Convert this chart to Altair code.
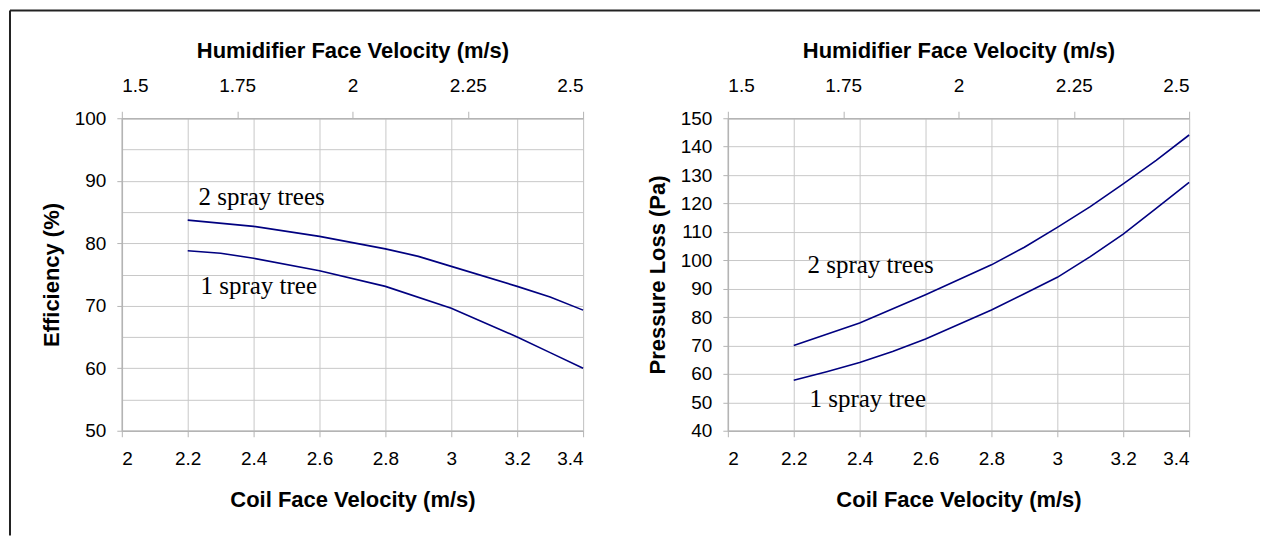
import altair as alt
import pandas as pd

# ---- data ----
coil_ticks = [2.0, 2.2, 2.4, 2.6, 2.8, 3.0, 3.2, 3.4]
hum_ticks = [1.5, 1.75, 2.0, 2.25, 2.5]

# Efficiency panel
eff_x_two = [2.2, 2.4, 2.6, 2.8, 2.9, 3.0, 3.2, 3.3, 3.4]
eff_two = [83.7, 82.7, 81.1, 79.1, 77.9, 76.3, 73.1, 71.4, 69.3]
eff_x_one = [2.2, 2.3, 2.4, 2.6, 2.8, 3.0, 3.2, 3.3, 3.4]
eff_one = [78.8, 78.4, 77.6, 75.6, 73.1, 69.6, 65.0, 62.5, 60.0]

# Pressure loss panel
pl_x_two = [2.2, 2.4, 2.6, 2.8, 2.9, 3.0, 3.1, 3.2, 3.3, 3.4]
pl_two = [70.0, 77.9, 87.9, 98.4, 104.6, 111.6, 118.9, 126.9, 135.2, 144.1]
pl_x_one = [2.2, 2.3, 2.4, 2.5, 2.6, 2.8, 2.9, 3.0, 3.1, 3.2, 3.3, 3.4]
pl_one = [57.8, 60.8, 64.0, 67.9, 72.3, 82.5, 88.2, 94.0, 101.3, 109.2, 118.3, 127.4]

series_names = ["2 spray trees", "1 spray tree"]

# annotation anchors (data units)
eff_ann_x = [2.233, 2.239]
eff_ann_y = [86.1, 71.9]
pl_ann_x = [2.242, 2.248]
pl_ann_y = [95.6, 48.2]

NAVY = "#000080"
GRID = "#c8c8c8"
DOMAIN = "#b4b4b4"
W, H = 462, 313


def make_df(x2, y2, x1, y1):
    return pd.DataFrame({
        "coil": list(x2) + list(x1),
        "value": list(y2) + list(y1),
        "series": [series_names[0]] * len(x2) + [series_names[1]] * len(x1),
    })


def panel(df, ann_x, ann_y, ydom, yvals, ytitle, label_every_10, frame=False):
    xscale = alt.Scale(domain=[2.0, 3.4], nice=False, zero=False)
    yscale = alt.Scale(domain=ydom, nice=False, zero=False)
    xaxis = alt.Axis(
        values=coil_ticks, format=".3~g", title="Coil Face Velocity (m/s)",
        orient="bottom", grid=True, gridColor=GRID, domainColor=DOMAIN,
        domainWidth=1.5, tickColor=DOMAIN, tickSize=6, labelPadding=13,
        titlePadding=21,
    )
    yaxis_kwargs = dict(
        values=yvals, title=ytitle, grid=True, gridColor=GRID,
        domainColor=DOMAIN, domainWidth=1.5, tickColor=DOMAIN, tickSize=5,
        labelPadding=11, titlePadding=11,
    )
    if label_every_10:
        yaxis_kwargs["labelExpr"] = "datum.value % 10 == 0 ? datum.label : ''"
        yaxis_kwargs["tickOpacity"] = {"condition": {"test": "datum.value % 10 == 0", "value": 1}, "value": 0}
    yaxis = alt.Axis(**yaxis_kwargs)

    lines = alt.Chart(df).mark_line(color=NAVY, strokeWidth=1.6).encode(
        x=alt.X("coil:Q", scale=xscale, axis=xaxis),
        y=alt.Y("value:Q", scale=yscale, axis=yaxis),
        detail="series:N",
    )
    ann_df = pd.DataFrame({"coil": ann_x, "value": ann_y, "label": series_names})
    text = alt.Chart(ann_df).mark_text(
        align="left", baseline="alphabetic", font="Liberation Serif",
        fontSize=25, color="black",
    ).encode(
        x=alt.X("coil:Q", scale=xscale, axis=None),
        y=alt.Y("value:Q", scale=yscale, axis=yaxis),
        text="label:N",
    )
    top_df = pd.DataFrame({"hum": [hum_ticks[0], hum_ticks[-1]]})
    top = alt.Chart(top_df).mark_point(opacity=0).encode(
        x=alt.X("hum:Q", scale=alt.Scale(domain=[1.5, 2.5], nice=False, zero=False),
                axis=alt.Axis(orient="top", values=hum_ticks, format=".3~g",
                              grid=False, title="Humidifier Face Velocity (m/s)",
                              domainColor=DOMAIN, domainWidth=1.5,
                              tickColor=DOMAIN, tickSize=7, labelPadding=16,
                              titlePadding=14)),
    )
    layers = [lines, text, top]
    if frame:
        one = pd.DataFrame({"k": [0]})
        left_line = alt.Chart(one).mark_rule(color="#222222", strokeWidth=2).encode(
            x=alt.value(-112), y=alt.value(-108), y2=alt.value(418))
        top_line = alt.Chart(one).mark_rule(color="#222222", strokeWidth=2).encode(
            x=alt.value(-112), x2=alt.value(1140), y=alt.value(-108))
        layers += [left_line, top_line]
    return alt.layer(*layers).resolve_scale(x="independent").properties(width=W, height=H)


left = panel(make_df(eff_x_two, eff_two, eff_x_one, eff_one), eff_ann_x, eff_ann_y,
             [50, 100], list(range(50, 101, 5)), "Efficiency (%)", True, frame=True)
right = panel(make_df(pl_x_two, pl_two, pl_x_one, pl_one), pl_ann_x, pl_ann_y,
              [40, 150], list(range(40, 151, 10)), "Pressure Loss (Pa)", False)

chart = alt.hconcat(left, right, spacing=145, bounds="flush").properties(
    padding=0, background="white"
).configure_axis(
    labelFont="Liberation Sans", labelFontSize=19, labelColor="black",
    titleFont="Liberation Sans", titleFontSize=22, titleFontWeight="bold",
    titleColor="black",
).configure_view(stroke=GRID)

chart.save("out.html", embed_options={"renderer": "svg", "actions": False})
